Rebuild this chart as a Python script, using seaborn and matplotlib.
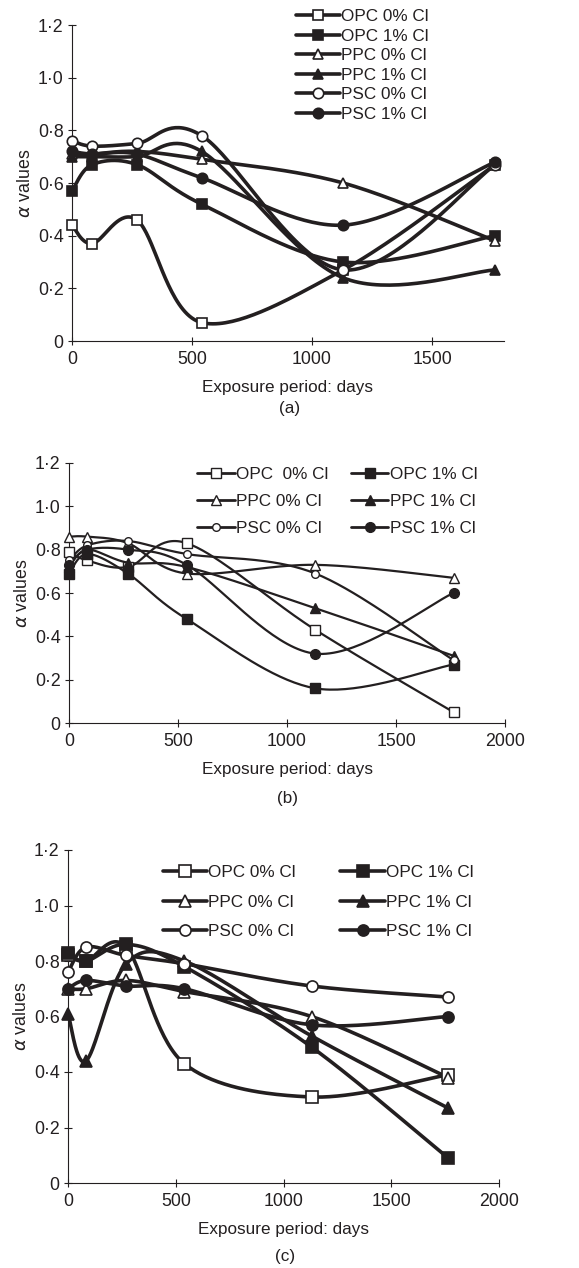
import numpy as np
import pandas as pd
import matplotlib
matplotlib.use("Agg")
import matplotlib.pyplot as plt
from matplotlib.lines import Line2D
import seaborn as sns

sns.set_theme(style="white")
plt.rcParams['font.family'] = ['Liberation Sans', 'DejaVu Sans']

# ---------------- data ----------------
days = [0, 84, 270, 540, 1130, 1764]
series_names = ["OPC 0% Cl", "OPC 1% Cl", "PPC 0% Cl", "PPC 1% Cl", "PSC 0% Cl", "PSC 1% Cl"]
legend_names_b = ["OPC  0% Cl", "OPC 1% Cl", "PPC 0% Cl", "PPC 1% Cl", "PSC 0% Cl", "PSC 1% Cl"]

# panel (a)
a_opc0 = [0.44, 0.37, 0.46, 0.07, 0.27, 0.67]
a_opc1 = [0.57, 0.67, 0.67, 0.52, 0.30, 0.40]
a_ppc0 = [0.71, 0.71, 0.72, 0.69, 0.60, 0.38]
a_ppc1 = [0.70, 0.70, 0.70, 0.72, 0.24, 0.27]
a_psc0 = [0.76, 0.74, 0.75, 0.78, 0.27, 0.67]
a_psc1 = [0.72, 0.71, 0.71, 0.62, 0.44, 0.68]

# panel (b)
b_opc0 = [0.79, 0.75, 0.72, 0.83, 0.43, 0.05]
b_opc1 = [0.69, 0.78, 0.69, 0.48, 0.16, 0.27]
b_ppc0 = [0.86, 0.86, 0.83, 0.69, 0.73, 0.67]
b_ppc1 = [0.72, 0.80, 0.74, 0.72, 0.53, 0.31]
b_psc0 = [0.75, 0.82, 0.84, 0.78, 0.69, 0.29]
b_psc1 = [0.73, 0.80, 0.80, 0.73, 0.32, 0.60]

# panel (c)
c_opc0 = [0.82, 0.80, 0.85, 0.43, 0.31, 0.39]
c_opc1 = [0.83, 0.80, 0.86, 0.78, 0.49, 0.09]
c_ppc0 = [0.70, 0.70, 0.73, 0.69, 0.60, 0.38]
c_ppc1 = [0.61, 0.44, 0.79, 0.80, 0.53, 0.27]
c_psc0 = [0.76, 0.85, 0.82, 0.79, 0.71, 0.67]
c_psc1 = [0.70, 0.73, 0.71, 0.70, 0.57, 0.60]

y_ticks = [0, 0.2, 0.4, 0.6, 0.8, 1.0, 1.2]
y_tick_labels = ["0", "0·2", "0·4", "0·6", "0·8", "1·0", "1·2"]
x_ticks_a = [0, 500, 1000, 1500]
x_ticks_bc = [0, 500, 1000, 1500, 2000]
x_label = "Exposure period: days"
y_label = r"$\alpha$ values"
captions = ["(a)", "(b)", "(c)"]

# ---------------- style ----------------
W, H = 579, 1268
INK = "#231f20"
FS = 12.3
marker_specs = [("s", "white"), ("s", INK), ("^", "white"), ("^", INK), ("o", "white"), ("o", INK)]


def smooth_curve(ax, xs, ys, n=40):
    """Excel-like smoothed line: Bezier with Catmull-Rom tangents in display space."""
    pts = ax.transData.transform(np.column_stack([xs, ys]))
    P = np.vstack([pts[0], pts, pts[-1]])
    out = []
    t = np.linspace(0, 1, n)[:, None]
    for i in range(1, len(P) - 2):
        p0, p1 = P[i], P[i + 1]
        c1 = p0 + (P[i + 1] - P[i - 1]) / 6.0
        c2 = p1 - (P[i + 2] - P[i]) / 6.0
        seg = ((1 - t) ** 3) * p0 + 3 * ((1 - t) ** 2) * t * c1 + 3 * (1 - t) * t ** 2 * c2 + t ** 3 * p1
        out.append(seg if i == 1 else seg[1:])
    out = np.vstack(out)
    return ax.transData.inverted().transform(out)


def make_axes(fig, left, right, top, bottom):
    return fig.add_axes([left / W, 1 - bottom / H, (right - left) / W, (bottom - top) / H])


def draw_panel(ax, data, xmax, xticks, lw, sizes, mew, legend_kw, legend_labels, anchor_px, order,
               leg_lw=None):
    ax.set_xlim(0, xmax)
    ax.set_ylim(0, 1.2)
    ax.figure.canvas.draw()
    for k, ys in enumerate(data):
        curve = smooth_curve(ax, days, ys)
        df = pd.DataFrame({"x": curve[:, 0], "y": curve[:, 1]})
        sns.lineplot(data=df, x="x", y="y", ax=ax, color=INK, lw=lw, sort=False,
                     estimator=None, zorder=2)
    for k, ys in enumerate(data):
        m, fc = marker_specs[k]
        ax.plot(days, ys, linestyle="none", marker=m, ms=sizes[k], mfc=fc, mec=INK, mew=mew,
                zorder=3, clip_on=False)
    ax.set_xlim(0, xmax)
    ax.set_ylim(0, 1.2)
    ax.set_xticks(xticks)
    ax.set_xticklabels([str(v) for v in xticks])
    ax.set_yticks(y_ticks)
    ax.set_yticklabels(y_tick_labels)
    for s in ["top", "right"]:
        ax.spines[s].set_visible(False)
    for s in ["left", "bottom"]:
        ax.spines[s].set_color(INK)
        ax.spines[s].set_linewidth(0.8)
    ax.tick_params(axis="both", direction="inout", length=6, width=0.8, color=INK,
                   labelsize=12.8, labelcolor=INK, left=True, bottom=True, pad=3)
    ax.tick_params(axis="x", pad=4)
    ax.set_xlabel(x_label, fontsize=FS, color=INK, labelpad=9)
    ax.set_ylabel(y_label, fontsize=FS + 0.5, color=INK, labelpad=3)
    handles = []
    llw = lw if leg_lw is None else leg_lw
    for k in range(6):
        m, fc = marker_specs[k]
        handles.append(Line2D([], [], color=INK, lw=llw, marker=m, ms=sizes[k], mfc=fc, mec=INK, mew=mew))
    hs = [handles[i] for i in order]
    ls = [legend_labels[i] for i in order]
    leg = ax.legend(hs, ls, frameon=False, fontsize=FS, numpoints=1, labelcolor=INK,
                    loc="upper left", bbox_to_anchor=(anchor_px[0] / W, 1 - anchor_px[1] / H),
                    bbox_transform=ax.figure.transFigure, borderpad=0, borderaxespad=0,
                    **legend_kw)
    return leg


fig = plt.figure(figsize=(W / 100, H / 100), dpi=100)
fig.patch.set_facecolor("white")

# panel (a)
axa = make_axes(fig, 72, 504, 25, 341)
draw_panel(axa, [a_opc0, a_opc1, a_ppc0, a_ppc1, a_psc0, a_psc1], 1800, x_ticks_a,
           2.6, [7, 7, 7.5, 7.5, 7.5, 7.5], 1.2,
           dict(ncol=1, handlelength=2.6, handletextpad=0.05, labelspacing=0.27),
           series_names, (296, 9), [0, 1, 2, 3, 4, 5])
fig.text(290 / W, 1 - 408 / H, captions[0], ha="center", va="center", fontsize=FS, color=INK)

# panel (b)
axb = make_axes(fig, 69, 505, 463, 723)
draw_panel(axb, [b_opc0, b_opc1, b_ppc0, b_ppc1, b_psc0, b_psc1], 2000, x_ticks_bc,
           1.6, [7, 7.5, 7.5, 7.5, 5.5, 7], 1.0,
           dict(ncol=2, handlelength=2.2, handletextpad=0.1, labelspacing=0.69, columnspacing=1.3),
           legend_names_b, (197, 467), [0, 2, 4, 1, 3, 5], leg_lw=2.0)
fig.text(288 / W, 1 - 798 / H, captions[1], ha="center", va="center", fontsize=FS, color=INK)

# panel (c)
axc = make_axes(fig, 68, 499, 850, 1183)
draw_panel(axc, [c_opc0, c_opc1, c_ppc0, c_ppc1, c_psc0, c_psc1], 2000, x_ticks_bc,
           2.6, [8, 8, 8, 8, 8, 8], 1.2,
           dict(ncol=2, handlelength=2.6, handletextpad=0.05, labelspacing=0.86, columnspacing=2.6),
           series_names, (163, 865), [0, 2, 4, 1, 3, 5])
fig.text(285 / W, 1 - 1257 / H, captions[2], ha="center", va="center", fontsize=FS, color=INK)

fig.savefig("out.png", dpi=100, facecolor="white")
